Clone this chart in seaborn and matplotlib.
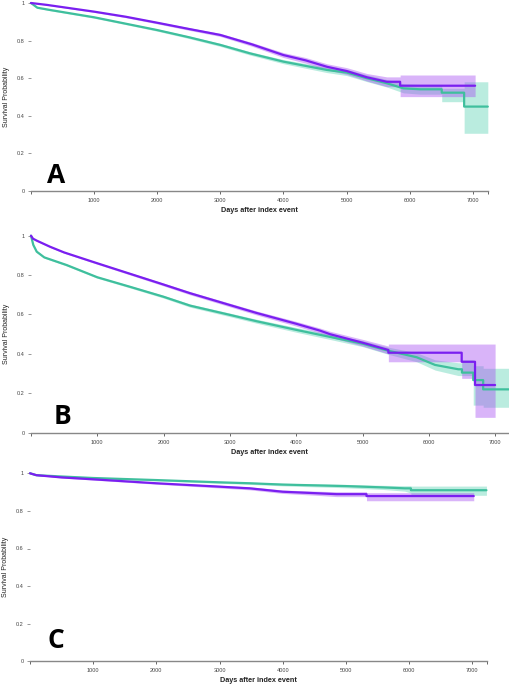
import numpy as np
import pandas as pd
import matplotlib
matplotlib.use("Agg")
import matplotlib.pyplot as plt
import seaborn as sns

# ---------------- data ----------------
# Panel A
a_p_day  = [0, 250, 500, 1000, 1500, 2000, 2500, 3000, 3500, 4000, 4350, 4686, 5003, 5320, 5637, 5848, 5848, 7036]
a_p_surv = [1.0, 0.99, 0.978, 0.954, 0.927, 0.895, 0.862, 0.83, 0.78, 0.723, 0.695, 0.661, 0.638, 0.605, 0.581, 0.581, 0.56, 0.56]
a_p_lo   = [1.0, 0.988, 0.975, 0.95, 0.922, 0.889, 0.855, 0.822, 0.77, 0.71, 0.68, 0.645, 0.62, 0.585, 0.555, 0.555, 0.502, 0.502]
a_p_hi   = [1.0, 0.992, 0.981, 0.958, 0.932, 0.901, 0.869, 0.838, 0.79, 0.736, 0.71, 0.677, 0.656, 0.625, 0.607, 0.607, 0.617, 0.617]

a_t_day  = [0, 100, 300, 1000, 1500, 2000, 2500, 3000, 3470, 4000, 4686, 5003, 5320, 5637, 5900, 6164, 6507, 6507, 6862, 6862, 7237]
a_t_surv = [1.0, 0.975, 0.963, 0.924, 0.89, 0.856, 0.818, 0.777, 0.732, 0.688, 0.644, 0.63, 0.6, 0.573, 0.546, 0.541, 0.541, 0.523, 0.523, 0.449, 0.449]
a_t_lo   = [1.0, 0.972, 0.959, 0.919, 0.885, 0.85, 0.811, 0.769, 0.723, 0.677, 0.63, 0.614, 0.582, 0.553, 0.522, 0.515, 0.515, 0.475, 0.475, 0.307, 0.307]
a_t_hi   = [1.0, 0.978, 0.967, 0.929, 0.895, 0.862, 0.825, 0.785, 0.741, 0.699, 0.658, 0.646, 0.618, 0.593, 0.57, 0.567, 0.567, 0.546, 0.546, 0.581, 0.581]

# Panel B
b_p_day  = [0, 30, 86, 287, 500, 1000, 1500, 2000, 2400, 3000, 3400, 4000, 4360, 4510, 5000, 5390, 5390, 6496, 6496, 6697, 6697, 7000]
b_p_surv = [1.0, 0.985, 0.975, 0.944, 0.915, 0.86, 0.806, 0.752, 0.708, 0.648, 0.608, 0.553, 0.518, 0.5, 0.457, 0.42, 0.406, 0.406, 0.36, 0.36, 0.242, 0.242]
b_p_lo   = [1.0, 0.983, 0.972, 0.94, 0.911, 0.855, 0.8, 0.745, 0.7, 0.639, 0.598, 0.541, 0.505, 0.485, 0.44, 0.4, 0.36, 0.36, 0.276, 0.276, 0.078, 0.078]
b_p_hi   = [1.0, 0.987, 0.978, 0.948, 0.919, 0.865, 0.812, 0.759, 0.716, 0.657, 0.618, 0.565, 0.531, 0.515, 0.474, 0.44, 0.45, 0.45, 0.45, 0.45, 0.45, 0.45]

b_t_day  = [0, 35, 86, 200, 538, 1000, 1500, 2000, 2400, 3000, 3400, 4000, 4500, 5000, 5390, 5817, 6094, 6445, 6500, 6500, 6670, 6670, 6820, 6820, 7205]
b_t_surv = [1.0, 0.953, 0.919, 0.89, 0.851, 0.789, 0.74, 0.69, 0.645, 0.598, 0.566, 0.522, 0.487, 0.452, 0.416, 0.383, 0.344, 0.322, 0.322, 0.305, 0.305, 0.267, 0.267, 0.22, 0.22]
b_t_lo   = [1.0, 0.95, 0.915, 0.886, 0.846, 0.784, 0.734, 0.683, 0.637, 0.589, 0.556, 0.51, 0.474, 0.437, 0.398, 0.36, 0.318, 0.29, 0.29, 0.29, 0.29, 0.14, 0.14, 0.129, 0.129]
b_t_hi   = [1.0, 0.956, 0.923, 0.894, 0.856, 0.794, 0.746, 0.697, 0.653, 0.607, 0.576, 0.534, 0.5, 0.467, 0.434, 0.406, 0.37, 0.355, 0.355, 0.37, 0.37, 0.34, 0.34, 0.327, 0.327]

# Panel C
c_p_day  = [0, 100, 500, 1000, 2000, 3000, 3480, 4000, 4536, 4852, 5327, 5327, 7025]
c_p_surv = [1.0, 0.99, 0.978, 0.968, 0.947, 0.929, 0.92, 0.902, 0.894, 0.889, 0.889, 0.879, 0.879]
c_p_lo   = [1.0, 0.988, 0.975, 0.964, 0.942, 0.922, 0.912, 0.893, 0.883, 0.876, 0.876, 0.854, 0.854]
c_p_hi   = [1.0, 0.992, 0.981, 0.972, 0.952, 0.936, 0.928, 0.911, 0.905, 0.902, 0.902, 0.897, 0.897]

c_t_day  = [0, 100, 500, 1000, 2000, 3000, 3480, 4000, 5000, 5590, 5933, 6030, 6030, 7226]
c_t_surv = [1.0, 0.99, 0.983, 0.975, 0.964, 0.952, 0.947, 0.94, 0.932, 0.925, 0.92, 0.92, 0.91, 0.91]
c_t_lo   = [1.0, 0.988, 0.981, 0.972, 0.96, 0.947, 0.941, 0.933, 0.923, 0.914, 0.905, 0.895, 0.883, 0.883]
c_t_hi   = [1.0, 0.992, 0.985, 0.978, 0.968, 0.957, 0.953, 0.947, 0.941, 0.936, 0.934, 0.934, 0.932, 0.932]

y_ticks = [0, 0.2, 0.4, 0.6, 0.8, 1.0]
y_tick_labels = ["0", "0.2", "0.4", "0.6", "0.8", "1"]
x_ticks = [0, 1000, 2000, 3000, 4000, 5000, 6000, 7000]
x_tick_labels = ["", "1000", "2000", "3000", "4000", "5000", "6000", "7000"]
panel_letters = ["A", "B", "C"]
x_max = [7240, 7205, 7230]

# ---------------- style ----------------
sns.set_style("white")
plt.rcParams["font.family"] = ["Liberation Sans", "DejaVu Sans"]

PURPLE = "#7a1ff0"
TEAL = "#3fbf9d"
PURPLE_FILL = "#a64df2"
TEAL_FILL = "#54d1b0"

fig = plt.figure(figsize=(5.10, 6.85), dpi=100)
W, H = 510, 685

# (left px, right px, top px (y=1), bottom px (y=0))
rects = [(31, 488, 3, 191), (31, 508.7, 235.7, 432.7), (30, 486.7, 473.3, 661.3)]
letter_pos = [(56, 176), (63, 417), (56, 641)]

panels = [
    (a_p_day, a_p_surv, a_p_lo, a_p_hi, a_t_day, a_t_surv, a_t_lo, a_t_hi),
    (b_p_day, b_p_surv, b_p_lo, b_p_hi, b_t_day, b_t_surv, b_t_lo, b_t_hi),
    (c_p_day, c_p_surv, c_p_lo, c_p_hi, c_t_day, c_t_surv, c_t_lo, c_t_hi),
]

for i, (pd_, ps, pl, ph, td, ts, tl, th) in enumerate(panels):
    l, r, t, b = rects[i]
    ax = fig.add_axes([l / W, 1 - b / H, (r - l) / W, (b - t) / H])

    # confidence bands (teal first, purple over)
    ax.fill_between(td, tl, th, color=TEAL_FILL, alpha=0.4, lw=0)
    ax.fill_between(pd_, pl, ph, color=PURPLE_FILL, alpha=0.42, lw=0)

    df = pd.concat([
        pd.DataFrame({"day": td, "surv": ts, "group": "teal"}),
        pd.DataFrame({"day": pd_, "surv": ps, "group": "purple"}),
    ], ignore_index=True)
    sns.lineplot(data=df, x="day", y="surv", hue="group",
                 palette={"teal": TEAL, "purple": PURPLE},
                 estimator=None, sort=False, legend=False, ax=ax,
                 linewidth=1.6, clip_on=False, units="group")

    ax.set_xlim(0, x_max[i])
    ax.set_ylim(0, 1)
    ax.set_xticks(x_ticks + [x_max[i]])
    ax.set_xticklabels(x_tick_labels + [""], fontsize=4, color="#444444")
    ax.set_yticks(y_ticks)
    ax.set_yticklabels(y_tick_labels, fontsize=4, color="#444444")
    ax.tick_params(axis="x", length=2.5, width=0.7, color="#666666", pad=2.5, bottom=True)
    ax.tick_params(axis="y", length=2, width=0.6, color="#888888", pad=2.5, left=True)
    for s in ["top", "right", "left"]:
        ax.spines[s].set_visible(False)
    ax.spines["bottom"].set_color("#888888")
    ax.spines["bottom"].set_linewidth(1.0)
    ax.grid(False)

    ax.set_xlabel("Days after index event", fontsize=5.2, fontweight="bold", color="#222222", labelpad=3)
    ax.set_ylabel("Survival Probability", fontsize=5.0, color="#222222", labelpad=5)

    lx, ly = letter_pos[i]
    fig.text(lx / W, 1 - ly / H, panel_letters[i], fontsize=19, fontweight="bold",
             family=["Open Sans", "DejaVu Sans"], ha="center", va="center", color="#000000")

fig.savefig("out.png", dpi=100)
